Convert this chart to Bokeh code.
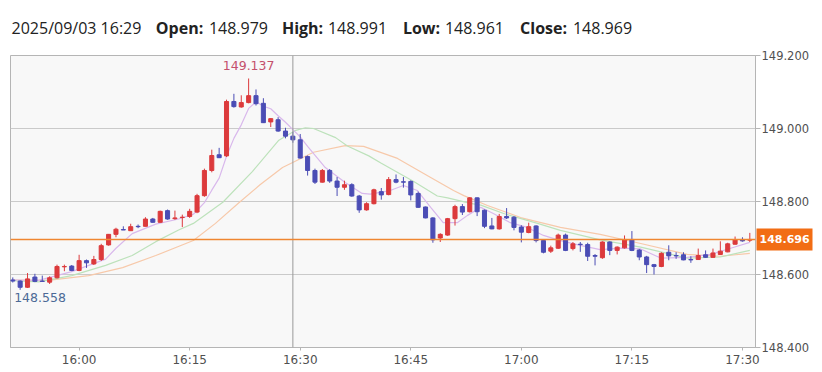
import numpy as np
from bokeh.plotting import figure
from bokeh.models import Range1d, FixedTicker, Span, ColumnDataSource, NumeralTickFormatter, LinearAxis
from bokeh.embed import file_html
from bokeh.resources import INLINE
from bokeh.core.properties import value

# ---------------- data (1-minute candles, 2025/09/03 15:51 - 17:31) ----------------
date_label = "2025/09/03"
first_time = "15:51"
opens = [148.585, 148.582, 148.565, 148.593, 148.582, 148.579, 148.591, 148.621, 148.623, 148.611,
         148.638, 148.629, 148.641, 148.681, 148.710, 148.723, 148.720, 148.732, 148.732, 148.752,
         148.743, 148.775, 148.753, 148.756, 148.759, 148.771, 148.816, 148.885, 148.928, 148.925,
         149.074, 149.059, 149.071, 149.090, 149.069, 149.018, 149.024, 148.993, 148.979, 148.969,
         148.923, 148.885, 148.853, 148.885, 148.856, 148.839, 148.846, 148.815, 148.777, 148.794,
         148.827, 148.819, 148.860, 148.854, 148.855, 148.822, 148.785, 148.755, 148.700, 148.708,
         148.753, 148.786, 148.772, 148.810, 148.776, 148.733, 148.725, 148.759, 148.757, 148.730,
         148.715, 148.733, 148.693, 148.664, 148.672, 148.708, 148.671, 148.683, 148.682, 148.652,
         148.646, 148.689, 148.666, 148.673, 148.696, 148.667, 148.648, 148.627, 148.622, 148.661,
         148.652, 148.654, 148.641, 148.641, 148.654, 148.647, 148.655, 148.662, 148.683, 148.696,
         148.694]
highs = [148.592, 148.584, 148.604, 148.602, 148.597, 148.595, 148.627, 148.627, 148.626, 148.654,
         148.641, 148.651, 148.684, 148.711, 148.728, 148.732, 148.739, 148.737, 148.757, 148.755,
         148.775, 148.778, 148.775, 148.764, 148.780, 148.821, 148.890, 148.942, 148.947, 149.079,
         149.095, 149.091, 149.137, 149.107, 149.083, 149.028, 149.031, 149.002, 148.991, 148.985,
         148.926, 148.890, 148.889, 148.889, 148.867, 148.857, 148.850, 148.818, 148.798, 148.835,
         148.837, 148.867, 148.874, 148.867, 148.858, 148.827, 148.786, 148.757, 148.713, 148.755,
         148.791, 148.793, 148.812, 148.811, 148.778, 148.755, 148.766, 148.782, 148.760, 148.735,
         148.742, 148.735, 148.694, 148.679, 148.712, 148.712, 148.689, 148.689, 148.687, 148.656,
         148.691, 148.691, 148.677, 148.707, 148.719, 148.670, 148.651, 148.629, 148.661, 148.680,
         148.661, 148.661, 148.650, 148.671, 148.666, 148.671, 148.691, 148.687, 148.704, 148.702,
         148.714]
lows = [148.578, 148.558, 148.563, 148.579, 148.581, 148.574, 148.589, 148.609, 148.609, 148.609,
        148.618, 148.626, 148.637, 148.679, 148.702, 148.722, 148.720, 148.727, 148.732, 148.742,
        148.742, 148.750, 148.750, 148.730, 148.755, 148.768, 148.813, 148.880, 148.919, 148.922,
        149.057, 149.057, 149.069, 149.063, 149.015, 149.004, 148.991, 148.973, 148.961, 148.918,
        148.871, 148.848, 148.852, 148.851, 148.815, 148.832, 148.813, 148.769, 148.775, 148.792,
        148.805, 148.817, 148.850, 148.838, 148.803, 148.783, 148.754, 148.687, 148.689, 148.706,
        148.734, 148.763, 148.770, 148.760, 148.727, 148.724, 148.723, 148.752, 148.721, 148.688,
        148.713, 148.688, 148.658, 148.659, 148.670, 148.664, 148.666, 148.662, 148.637, 148.625,
        148.643, 148.653, 148.655, 148.671, 148.664, 148.639, 148.604, 148.600, 148.620, 148.639,
        148.643, 148.639, 148.632, 148.640, 148.646, 148.646, 148.654, 148.661, 148.682, 148.690,
        148.689]
closes = [148.582, 148.565, 148.588, 148.581, 148.581, 148.591, 148.622, 148.622, 148.611, 148.638,
          148.632, 148.641, 148.679, 148.710, 148.724, 148.722, 148.731, 148.731, 148.752, 148.743,
          148.773, 148.752, 148.755, 148.757, 148.773, 148.816, 148.885, 148.926, 148.920, 149.074,
          149.060, 149.071, 149.090, 149.068, 149.016, 149.027, 148.993, 148.979, 148.969, 148.919,
          148.885, 148.853, 148.885, 148.856, 148.839, 148.846, 148.815, 148.777, 148.794, 148.832,
          148.818, 148.860, 148.853, 148.853, 148.818, 148.784, 148.755, 148.695, 148.710, 148.753,
          148.786, 148.771, 148.810, 148.772, 148.732, 148.725, 148.759, 148.755, 148.729, 148.716,
          148.731, 148.693, 148.661, 148.673, 148.708, 148.666, 148.684, 148.682, 148.650, 148.650,
          148.689, 148.666, 148.675, 148.696, 148.666, 148.648, 148.627, 148.622, 148.658, 148.651,
          148.651, 148.640, 148.640, 148.652, 148.647, 148.659, 148.664, 148.684, 148.695, 148.692,
          148.696]

# moving averages, x = minutes after first candle
ma_short_x = [0, 3.5, 8, 12.6, 14, 16.2, 19.4, 22.5, 24.5, 26, 27, 28, 29, 30, 31, 32, 33, 34, 35,
              36, 37, 38, 39, 40, 42.4, 45.1, 47.4, 48.5, 51.2, 53, 54.9, 56.7, 58.4, 60.3, 61.7,
              63.5, 65.2, 67.5, 69.8, 72, 74.3, 77, 79.7, 82.5, 85.2, 87.9, 91.5, 94.7, 97.4, 100]
ma_short = [148.585, 148.584, 148.608, 148.642, 148.672, 148.712, 148.738, 148.752, 148.765,
            148.797, 148.831, 148.864, 148.924, 148.973, 149.010, 149.055, 149.073, 149.061,
            149.054, 149.035, 149.017, 148.997, 148.977, 148.951, 148.893, 148.852, 148.822,
            148.820, 148.830, 148.844, 148.830, 148.784, 148.742, 148.742, 148.762, 148.784,
            148.767, 148.742, 148.729, 148.707, 148.693, 148.680, 148.668, 148.672, 148.670,
            148.645, 148.647, 148.655, 148.672, 148.688]
ma_mid_x = [0, 3.5, 8, 12.6, 16.2, 19.4, 22.5, 24.5, 28.5, 32.5, 36.1, 38.4, 39.7, 40.8, 43.8,
            45.4, 48.3, 50, 54.4, 57.6, 59, 62.1, 63.5, 66.6, 71.2, 74.3, 79.7, 85.2, 91.5, 96, 100]
ma_mid = [148.583, 148.580, 148.597, 148.625, 148.652, 148.690, 148.722, 148.740, 148.798,
          148.882, 148.968, 148.995, 149.002, 149.000, 148.975, 148.952, 148.925, 148.905,
          148.855, 148.815, 148.810, 148.795, 148.790, 148.767, 148.740, 148.721, 148.695,
          148.675, 148.645, 148.648, 148.666]
ma_long_x = [0, 4.8, 10.3, 14.9, 19.4, 24.5, 27.5, 30.6, 33.5, 36.6, 40.8, 45.1, 47.6, 52.2, 56.7,
             59.8, 61.2, 64.4, 68.9, 74.3, 79.7, 85.2, 91.5, 96, 100]
ma_long = [148.585, 148.584, 148.597, 148.619, 148.652, 148.693, 148.740, 148.795, 148.845,
           148.893, 148.935, 148.953, 148.951, 148.918, 148.866, 148.830, 148.816, 148.789,
           148.756, 148.729, 148.710, 148.685, 148.655, 148.650, 148.658]

tick_labels = ["16:00", "16:15", "16:30", "16:45", "17:00", "17:15", "17:30"]
y_ticks = [148.4, 148.6, 148.8, 149.0, 149.2]
cursor_time = "16:29"

# ---------------- layout constants (pixels) ----------------
W, H = 822, 372
FL, FR, FT, FB = 10, 755, 55, 347          # frame edges in page pixels
X0, X1 = -0.31, 100.77
Y0, Y1 = 148.4, 149.2

def px_x(px):
    return X0 + (px - FL) * (X1 - X0) / (FR - FL)

def minutes(t):
    h, m = t.split(":")
    return int(h) * 60 + int(m)

t0 = minutes(first_time)
n = len(opens)
xs = np.arange(n)
UP, DOWN = "#dc3a3c", "#4b4db5"
colors = [UP if c >= o else DOWN for o, c in zip(opens, closes)]
src = ColumnDataSource(dict(x=xs, o=opens, h=highs, l=lows, c=closes,
                            top=[max(a, b) for a, b in zip(opens, closes)],
                            bot=[min(a, b) for a, b in zip(opens, closes)],
                            col=colors))

p = figure(width=W, height=H, x_range=Range1d(X0, X1), y_range=Range1d(Y0, Y1),
           y_axis_location="right", output_backend="svg", toolbar_location=None,
           min_border_left=FL, min_border_right=W - FR, min_border_top=FT, min_border_bottom=H - FB)
p.background_fill_color = "#f8f8f8"
p.border_fill_color = "white"
p.outline_line_color = "#b5b5b5"
p.xgrid.visible = False
p.ygrid.grid_line_color = "#cacaca"
p.ygrid.ticker = FixedTicker(ticks=y_ticks)

p.yaxis.ticker = FixedTicker(ticks=y_ticks)
p.yaxis.formatter = NumeralTickFormatter(format="0.000")
p.xaxis.ticker = FixedTicker(ticks=[minutes(t) - t0 for t in tick_labels])
p.xaxis.major_label_overrides = {minutes(t) - t0: t for t in tick_labels}
for ax in (p.xaxis, p.yaxis):
    ax.axis_line_color = "#b5b5b5"
    ax.major_tick_line_color = "#b5b5b5"
    ax.minor_tick_line_color = None
    ax.major_tick_in = 0
    ax.major_label_text_font = "DejaVu Sans"
    ax.major_label_text_color = "#505050"
p.xaxis.major_label_text_font_size = "12px"
p.yaxis.major_label_text_font_size = "11.5px"
p.xaxis.major_tick_out = 3
p.xaxis.major_label_standoff = 2
p.yaxis.major_tick_out = 5
p.yaxis.major_label_standoff = 1

# moving averages
p.line(ma_long_x, ma_long, line_color="#f7c9aa", line_width=1.2)
p.line(ma_mid_x, ma_mid, line_color="#bde2bb", line_width=1.2)
p.line(ma_short_x, ma_short, line_color="#d9b8ec", line_width=1.2)

# candles
p.segment(x0="x", x1="x", y0="l", y1="h", line_color="col", line_width=1, source=src)
p.vbar(x="x", width=0.55, top="top", bottom="bot", fill_color="col", line_color="col",
       line_width=1, source=src)

# cursor line and last-price line
ci = minutes(cursor_time) - t0
p.add_layout(Span(location=ci, dimension="height", line_color="#9a9a9a", line_width=1))
p.add_layout(Span(location=closes[-1], dimension="width", line_color="#ef8631", line_width=1.5))

# max / min labels
imax = int(np.argmax(highs))
imin = int(np.argmin(lows))
p.text(x=[imax], y=[highs[imax]], text=[f"{highs[imax]:.3f}"], text_align="center",
       text_baseline="bottom", y_offset=-8, text_color="#c4506c", text_font=value("DejaVu Sans"),
       text_font_size="12.5px")
p.text(x=[imin], y=[lows[imin]], text=[f"{lows[imin]:.3f}"], text_align="left",
       text_baseline="top", x_offset=-6, y_offset=3, text_color="#4c6a96",
       text_font=value("DejaVu Sans"), text_font_size="12.5px")

# last price box: a second right axis (outside the price labels) with one thick inward tick
last = closes[-1]
price_axis = LinearAxis(ticker=FixedTicker(ticks=[last]),
                        major_label_overrides={last: f"{last:.3f}"},
                        axis_line_color=None, minor_tick_line_color=None,
                        major_tick_in=56, major_tick_out=0, major_tick_line_width=22,
                        major_tick_line_color="#f26d14", major_label_standoff=-53,
                        major_label_text_color="white", major_label_text_font="DejaVu Sans",
                        major_label_text_font_style="bold", major_label_text_font_size="11px")
p.add_layout(price_axis, "right")

# header (OHLC of cursor candle): two label rows of axes above the frame, overlaid
normal_items = [(f"{date_label} {cursor_time}", 76), (f"{opens[ci]:.3f}", 238),
                (f"{highs[ci]:.3f}", 357), (f"{lows[ci]:.3f}", 474), (f"{closes[ci]:.3f}", 602)]
bold_items = [("Open:", 179), ("High:", 302), ("Low:", 421), ("Close:", 543)]
for items, style, standoff in ((bold_items, "bold", 17), (normal_items, "normal", -25)):
    ticks = [round(px_x(px), 2) + 0.001 for _, px in items]
    hax = LinearAxis(ticker=FixedTicker(ticks=ticks),
                     major_label_overrides={t: txt for t, (txt, _) in zip(ticks, items)},
                     axis_line_color=None, major_tick_line_color=None, minor_tick_line_color=None,
                     major_tick_in=0, major_tick_out=0, major_label_standoff=standoff,
                     major_label_text_font="Open Sans", major_label_text_font_style=style,
                     major_label_text_font_size="16px", major_label_text_color="#222222")
    p.add_layout(hax, "above")

open("out.html", "w").write(file_html(p, INLINE))
